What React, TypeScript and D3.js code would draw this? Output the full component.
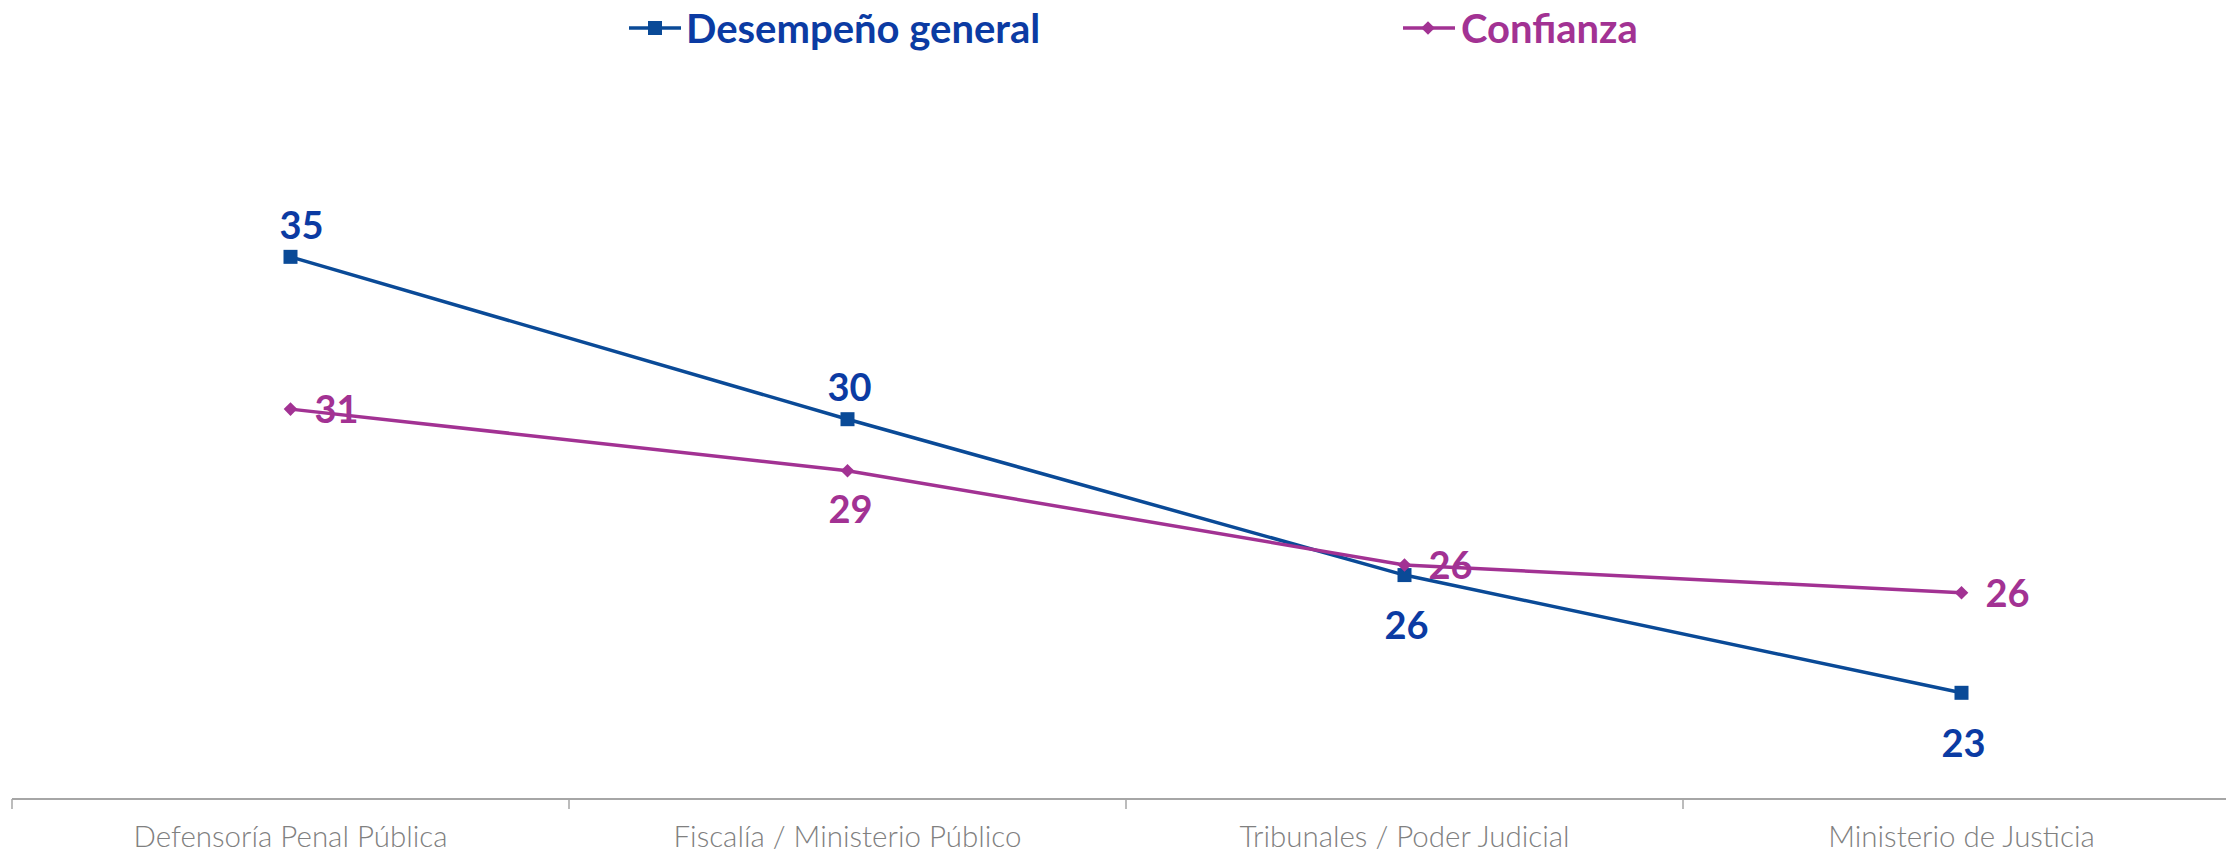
import React from "react"
import * as d3 from "d3"

const categories = [
  "Defensoría Penal Pública",
  "Fiscalía / Ministerio Público",
  "Tribunales / Poder Judicial",
  "Ministerio de Justicia",
]
const desempeno = [34.86, 30.35, 26.02, 22.75]
const confianza = [30.63, 28.92, 26.3, 25.53]
const seriesNames = ["Desempeño general", "Confianza"]

const width = 2226
const height = 855
const blueLine = "#0A4A97"
const blueText = "#0B3BA3"
const magenta = "#A23293"
const numFont = "Lato, 'Open Sans', sans-serif"

// rotated square, about 13px corner to corner
const diamondPath = "M0,-6.8L6.8,0L0,6.8L-6.8,0Z"

const App = () => {
  const x = d3.scaleBand().domain(categories).range([12, 2240])
  const y = d3.scaleLinear().domain([19.8, 39.8]).range([799, 79])
  const cx = (c: string) => (x(c) as number) + x.bandwidth() / 2

  const line = d3
    .line<number>()
    .x((d, i) => cx(categories[i]))
    .y((d) => y(d))

  return (
    <svg
      width={width}
      height={height}
      style={{ position: "absolute", left: 0, top: 0, background: "#fff" }}
    >
      {/* legend */}
      <g>
        <line x1={629} x2={681} y1={28} y2={28} stroke={blueLine} strokeWidth={3.5} />
        <rect x={655 - 7} y={28 - 7} width={14} height={14} fill={blueLine} />
        <text
          x={686}
          y={43}
          fill={blueText}
          fontFamily={numFont}
          fontWeight="bold"
          fontSize={40}
        >
          {seriesNames[0]}
        </text>
        <line x1={1403} x2={1455} y1={28} y2={28} stroke={magenta} strokeWidth={3.5} />
        <path d={diamondPath} transform="translate(1428,28)" fill={magenta} />
        <text
          x={1461}
          y={43}
          fill={magenta}
          fontFamily={numFont}
          fontWeight="bold"
          fontSize={40}
        >
          {seriesNames[1]}
        </text>
      </g>

      {/* axis */}
      <line x1={12} x2={width} y1={799} y2={799} stroke="#A6A6A6" strokeWidth={2} />
      {categories.map((c) => (
        <line
          key={"t" + c}
          x1={x(c)}
          x2={x(c)}
          y1={799}
          y2={809}
          stroke="#A6A6A6"
          strokeWidth={1.5}
        />
      ))}
      {categories.map((c) => (
        <text
          key={"l" + c}
          x={cx(c)}
          y={847}
          textAnchor="middle"
          fill="#808080"
          fontFamily={numFont}
          fontWeight={300}
          fontSize={29.5}
        >
          {c}
        </text>
      ))}

      {/* lines */}
      <path d={line(desempeno) as string} fill="none" stroke={blueLine} strokeWidth={3.5} />
      <path d={line(confianza) as string} fill="none" stroke={magenta} strokeWidth={3.5} />

      {desempeno.map((v, i) => (
        <rect
          key={"bm" + i}
          x={cx(categories[i]) - 7}
          y={y(v) - 7}
          width={14}
          height={14}
          fill={blueLine}
        />
      ))}
      {confianza.map((v, i) => (
        <path
          key={"cm" + i}
          d={diamondPath}
          transform={`translate(${cx(categories[i])},${y(v)})`}
          fill={magenta}
        />
      ))}

      {/* data labels */}
      {desempeno.map((v, i) => {
        const above = i < 2
        return (
          <text
            key={"bl" + i}
            x={cx(categories[i]) + (i === 0 ? 11 : 2)}
            y={above ? y(v) - 18 : y(v) + 64}
            textAnchor="middle"
            fill={blueText}
            fontFamily={numFont}
            fontWeight="bold"
            fontSize={38}
          >
            {Math.round(v)}
          </text>
        )
      })}
      {confianza.map((v, i) => {
        const below = i === 1
        return (
          <text
            key={"cl" + i}
            x={below ? cx(categories[i]) + 3 : cx(categories[i]) + 24}
            y={below ? y(v) + 52 : y(v) + 14}
            textAnchor={below ? "middle" : "start"}
            fill={magenta}
            fontFamily={numFont}
            fontWeight="bold"
            fontSize={38}
          >
            {Math.round(v)}
          </text>
        )
      })}
    </svg>
  )
}

export default App
